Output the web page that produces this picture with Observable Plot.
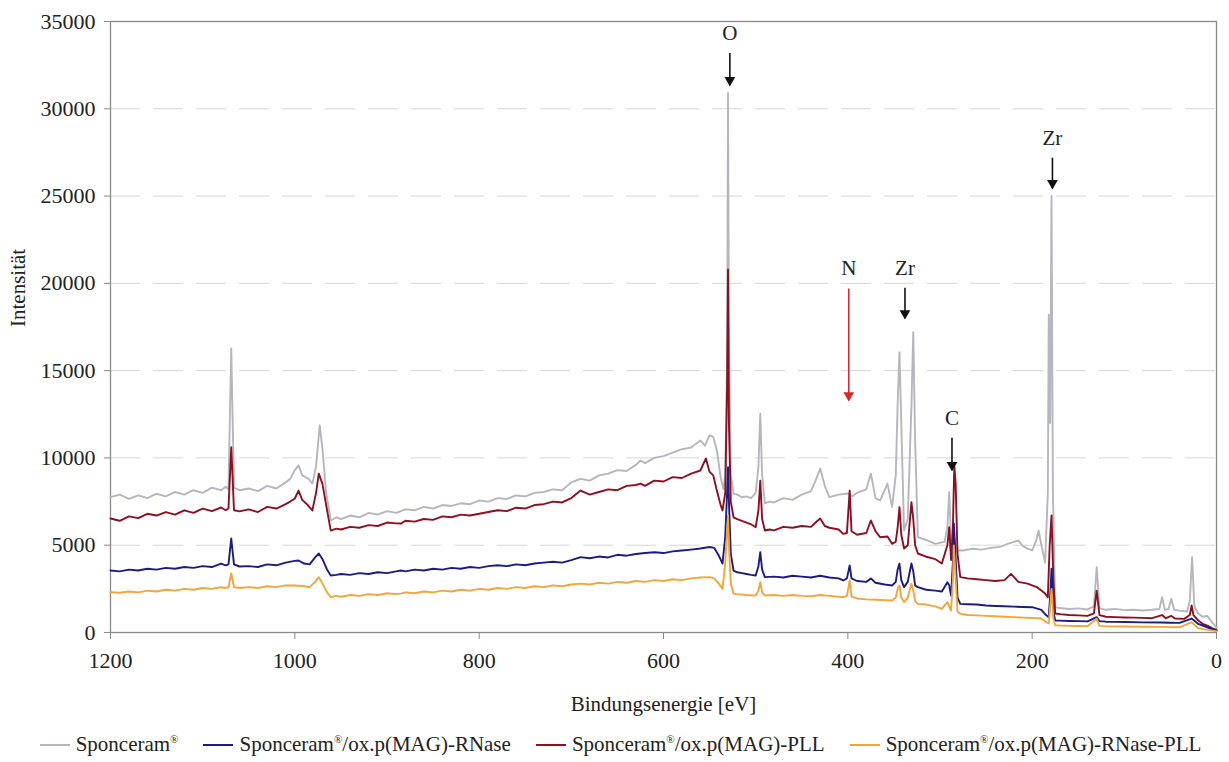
<!DOCTYPE html>
<html>
<head>
<meta charset="utf-8">
<script src="https://cdn.jsdelivr.net/npm/d3@7"></script>
<script src="https://cdn.jsdelivr.net/npm/@observablehq/plot@0.6"></script>
<style>
  body { margin: 0; background: #fff; font-family: "Liberation Serif", "Times New Roman", serif; }
  #chart svg { font-family: "Liberation Serif", "Times New Roman", serif !important; }
  #chart svg g[aria-label="y-axis tick label"] text, #chart svg g[aria-label="x-axis tick label"] text { font-size: 22px; }
  #legend { display: flex; justify-content: center; gap: 25px; font-size: 21px; color: #222; margin-top: 10px; margin-left: 12px; }
  #legend .item { display: flex; align-items: center; white-space: nowrap; }
  #legend .sw { display: inline-block; width: 30px; height: 2px; margin-right: 6px; }
  #legend sup { font-size: 11px; }
</style>
</head>
<body>
<div id="chart"></div>
<div id="legend"></div>
<script>
// Series names and colours
const seriesNames = ["Sponceram®", "Sponceram®/ox.p(MAG)-RNase", "Sponceram®/ox.p(MAG)-PLL", "Sponceram®/ox.p(MAG)-RNase-PLL"];
const seriesColors = ["#b6b6be", "#1c1c80", "#8c1022", "#f2a53c"];

// [Bindungsenergie eV, Intensität]
const sponceram = [[1200,7750],[1190,7900],[1180,7650],[1170,7850],[1160,7700],[1150,7950],[1140,7800],[1130,8050],[1120,7900],[1110,8150],[1100,8000],[1090,8300],[1080,8150],[1075,8350],[1072,8200],[1069,16270],[1066,8300],[1060,8150],[1050,8250],[1040,8100],[1030,8400],[1020,8250],[1010,8600],[1005,8800],[1000,9300],[996,9570],[992,9000],[985,8800],[981,8530],[977,9500],[973,11860],[970,10500],[966,8000],[961,6415],[955,6600],[950,6500],[940,6700],[930,6600],[920,6850],[910,6750],[900,6950],[890,6850],[880,7050],[870,7000],[860,7200],[850,7100],[840,7300],[830,7250],[820,7400],[810,7350],[800,7560],[790,7500],[780,7700],[770,7650],[760,7850],[750,7800],[740,8000],[730,8050],[720,8200],[710,8150],[700,8600],[690,8800],[680,8700],[670,9000],[660,9100],[650,9300],[640,9250],[630,9600],[625,9850],[620,9700],[610,10000],[600,10100],[590,10300],[580,10500],[570,10600],[560,11000],[555,10700],[550,11300],[546,11200],[542,10400],[538,8900],[535,8200],[533,9000],[531,16000],[530,30900],[529,17000],[527,9000],[524,7960],[520,7900],[515,7750],[510,7800],[505,7700],[500,8000],[497,9500],[495,12540],[493,9000],[490,7400],[485,7500],[480,7450],[470,7700],[460,7600],[450,7900],[440,8100],[435,8700],[430,9390],[425,8400],[420,7750],[410,7900],[400,7960],[395,7800],[390,8000],[380,8200],[375,9100],[370,7700],[365,7560],[357,8530],[352,7180],[348,9000],[346,13000],[344,16060],[342,12000],[339,5840],[335,6500],[331,13000],[329,17200],[327,11000],[324,5460],[315,5300],[305,5080],[295,5200],[292,6000],[290,8040],[288,5270],[285,5600],[282,4700],[275,4700],[265,4800],[255,4750],[245,4850],[235,4900],[225,5100],[215,5270],[210,4950],[205,4800],[200,4700],[196,5200],[193,5840],[190,5000],[186,4000],[183,8000],[182,18200],[180.5,12000],[179,25000],[177.5,8000],[175,1450],[170,1400],[160,1350],[150,1380],[140,1320],[133,1500],[130,3740],[127,1400],[120,1300],[110,1350],[100,1280],[90,1300],[80,1260],[70,1300],[62,1350],[59,2025],[56,1300],[52,1350],[49,1930],[46,1300],[40,1250],[32,1200],[29,1800],[26.5,4315],[24,1500],[20,1100],[15,900],[10,950],[5,600],[0,300]];

const rnase = [[1200,3550],[1190,3500],[1180,3600],[1170,3550],[1160,3650],[1150,3600],[1140,3700],[1130,3650],[1120,3750],[1110,3700],[1100,3800],[1090,3750],[1080,3950],[1075,3850],[1072,3900],[1069,5385],[1066,3900],[1060,3780],[1050,3800],[1040,3750],[1030,3900],[1020,3850],[1010,4000],[1000,4100],[996,4125],[990,3950],[984,3900],[978,4300],[974,4525],[970,4200],[965,3600],[961,3265],[955,3300],[950,3350],[940,3300],[930,3400],[920,3350],[910,3450],[900,3400],[890,3500],[885,3550],[880,3500],[870,3600],[860,3550],[850,3650],[840,3600],[830,3700],[820,3650],[810,3750],[800,3700],[790,3800],[780,3850],[770,3800],[760,3900],[750,3850],[740,3950],[730,4000],[720,4050],[710,4000],[700,4150],[690,4315],[680,4250],[670,4350],[660,4300],[650,4450],[640,4400],[630,4500],[620,4550],[610,4600],[600,4550],[590,4650],[580,4700],[570,4750],[560,4810],[550,4900],[545,4850],[540,4400],[536,3950],[533,5500],[531,8000],[530,9470],[529,7500],[527,4500],[524,3550],[520,3450],[515,3400],[510,3350],[505,3300],[500,3265],[497,3800],[495,4600],[493,3600],[490,3170],[480,3200],[470,3150],[460,3250],[450,3200],[440,3150],[430,3250],[420,3150],[410,3100],[405,2980],[401,3100],[398,3840],[396,3100],[390,2950],[380,2900],[375,3100],[370,2850],[360,2750],[352,2690],[348,2900],[346,3600],[344,3950],[342,3000],[339,2600],[335,2900],[331,3950],[329,3500],[327,2700],[324,2595],[315,2450],[305,2400],[298,2350],[292,2880],[290,2700],[288,2120],[286,4000],[285,6240],[284,5200],[281,2000],[278,1640],[270,1620],[260,1600],[250,1550],[240,1520],[230,1500],[220,1480],[210,1460],[200,1450],[190,1300],[185,1000],[182,880],[180,2500],[179,3660],[177,1200],[175,690],[170,680],[160,660],[150,650],[140,640],[130,880],[127,650],[120,620],[110,610],[100,600],[80,580],[60,570],[50,560],[40,550],[27,800],[20,500],[10,300],[0,100]];

const pll = [[1200,6530],[1190,6400],[1180,6650],[1170,6550],[1160,6800],[1150,6700],[1140,6900],[1130,6750],[1120,7000],[1110,6850],[1100,7100],[1090,6950],[1080,7160],[1075,7000],[1072,7100],[1069,10615],[1066,7000],[1060,6940],[1050,7050],[1040,6900],[1030,7200],[1020,7100],[1010,7350],[1005,7500],[1000,7675],[996,8130],[992,7600],[986,7300],[981,6990],[977,8000],[974,9100],[970,8500],[965,7000],[961,5840],[955,5950],[950,5900],[940,6050],[930,6000],[920,6150],[910,6100],[900,6300],[890,6250],[885,6240],[880,6400],[870,6350],[860,6500],[850,6450],[840,6650],[830,6600],[820,6750],[810,6700],[800,6800],[790,6900],[780,7000],[770,6950],[760,7150],[750,7100],[740,7300],[730,7350],[720,7500],[710,7450],[700,7700],[690,8130],[680,7900],[670,8050],[660,8200],[650,8150],[640,8400],[630,8450],[625,8530],[620,8400],[610,8700],[600,8650],[590,8900],[580,8850],[570,9100],[560,9280],[554,9970],[550,9200],[546,9000],[542,8100],[538,7300],[536,6990],[533,8000],[531,14000],[530,20800],[529,12000],[527,7500],[524,6600],[520,6500],[515,6400],[510,6300],[505,6200],[500,6030],[497,7000],[495,8700],[493,6500],[490,5840],[485,5900],[480,5850],[470,6050],[460,6000],[450,6100],[440,6050],[435,6300],[430,6530],[425,6100],[420,6000],[410,5900],[405,5650],[401,5700],[398,8130],[396,5800],[390,5600],[380,5700],[375,6415],[370,5800],[365,5460],[357,5500],[352,5080],[348,5200],[346,6000],[344,7180],[342,5600],[339,4810],[335,5000],[331,7460],[329,6500],[327,5000],[324,4525],[315,4340],[305,4200],[298,3950],[292,5000],[290,6030],[288,4150],[286,6000],[284.5,9570],[283,8500],[281,4500],[278,3170],[270,3100],[260,3050],[250,3000],[240,2950],[230,3000],[223,3360],[215,2900],[205,2800],[195,2600],[190,2400],[186,2230],[183,2000],[181,5000],[179,6700],[177,3000],[175,1090],[170,1050],[160,1000],[150,980],[140,950],[133,1100],[130,2400],[127,1000],[120,900],[110,880],[100,860],[90,850],[80,840],[70,820],[59,1000],[55,820],[49,950],[45,800],[35,780],[29,1000],[27,1545],[25,1000],[20,700],[15,500],[10,400],[5,250],[0,150]];

const rnasePll = [[1200,2310],[1190,2280],[1180,2350],[1170,2300],[1160,2400],[1150,2350],[1140,2450],[1130,2400],[1120,2500],[1110,2450],[1100,2550],[1090,2500],[1080,2595],[1075,2550],[1072,2600],[1069,3380],[1066,2600],[1060,2550],[1050,2600],[1040,2550],[1030,2650],[1020,2600],[1010,2700],[1000,2690],[990,2650],[984,2600],[978,2900],[974,3170],[970,2800],[965,2300],[961,2025],[955,2100],[950,2050],[940,2150],[930,2100],[920,2200],[910,2150],[900,2250],[890,2200],[885,2230],[880,2300],[870,2250],[860,2350],[850,2300],[840,2400],[830,2350],[820,2450],[810,2400],[800,2500],[790,2450],[780,2550],[770,2500],[760,2600],[750,2550],[740,2650],[730,2600],[720,2700],[710,2650],[700,2750],[690,2800],[680,2750],[670,2850],[660,2800],[650,2900],[640,2850],[630,2950],[620,2900],[610,3000],[600,2950],[590,3050],[580,3000],[570,3100],[560,3150],[550,3170],[545,3100],[540,2800],[536,2500],[533,4000],[531,5800],[530,6700],[529,5000],[527,2800],[524,2230],[520,2200],[510,2150],[500,2120],[497,2400],[495,2880],[493,2300],[490,2120],[480,2150],[470,2100],[460,2150],[450,2100],[440,2080],[430,2150],[420,2100],[410,2050],[405,2025],[401,2100],[398,2980],[396,2050],[390,1950],[380,1900],[370,1880],[360,1850],[352,1830],[348,2000],[346,2500],[344,2690],[342,2000],[339,1740],[335,2000],[331,2800],[329,2400],[327,1800],[324,1640],[315,1600],[305,1500],[298,1350],[292,1740],[290,1500],[288,1260],[286,3000],[285,4980],[284,4000],[281,1200],[278,1070],[270,1000],[260,980],[250,950],[240,930],[230,900],[220,880],[210,850],[200,830],[190,800],[185,600],[182,515],[180,1800],[179,2500],[177,800],[175,420],[170,400],[160,380],[150,370],[140,360],[130,800],[127,380],[120,350],[100,340],[80,330],[60,320],[50,310],[40,300],[27,590],[20,250],[10,150],[0,80]];

const xTicks = [1200, 1000, 800, 600, 400, 200, 0];
const yTicks = [0, 5000, 10000, 15000, 20000, 25000, 30000, 35000];
const gridValues = [5000, 10000, 15000, 20000, 25000, 30000];

// Peak annotations: label, energy, label height, arrow start, arrow tip
const annLabels = ["O", "Zr", "N", "Zr", "C"];
const annEnergy = [528, 178, 399, 338, 287];
const annTextY = [34350, 28300, 20850, 20850, 12250];
const annFromY = [33200, 27200, 19700, 19750, 11150];
const annToY = [31350, 25450, 13300, 18000, 9300];
const annColors = ["#111", "#111", "#d7262c", "#111", "#111"];

const drawOrder = [0, 2, 1, 3];
const allSeries = [sponceram, rnase, pll, rnasePll];
const ann = annLabels.map((label, i) => ({label, x: annEnergy[i], ty: annTextY[i], y1: annFromY[i], y2: annToY[i], c: annColors[i]}));

const marks = [
  Plot.ruleY(gridValues, {stroke: "#d6d6d6", strokeDasharray: "30,13", strokeWidth: 1}),
  Plot.frame({stroke: "#8a8a8a", strokeWidth: 1.3}),
  Plot.axisX({ticks: xTicks, tickSize: 7, tickPadding: 13, tickFormat: d3.format("d"), label: null, stroke: "#8a8a8a"}),
  Plot.axisY({ticks: yTicks, tickSize: 6, tickPadding: 9, tickFormat: d3.format("d"), label: null, stroke: "#8a8a8a"}),
];
drawOrder.forEach(i => {
  marks.push(Plot.line(allSeries[i], {x: d => d[0], y: d => d[1], stroke: seriesColors[i], strokeWidth: 1.9, strokeLinejoin: "round"}));
});
marks.push(
  Plot.link(ann, {x1: "x", x2: "x", y1: "y1", y2: "y2", stroke: "c", strokeWidth: 1.6}),
  Plot.dot(ann, {x: "x", y: "y2", symbol: "triangle", rotate: 180, r: 4, fill: "c", stroke: null, dy: -5}),
  Plot.text(ann, {x: "x", y: "ty", text: "label", fill: "#222", fontSize: 21}),
  Plot.text(["Bindungsenergie [eV]"], {frameAnchor: "bottom", dy: 78, fill: "#222", fontSize: 21}),
  Plot.text(["Intensität"], {frameAnchor: "left", dx: -92, rotate: -90, fill: "#222", fontSize: 21})
);

const chart = Plot.plot({
  width: 1229,
  height: 722,
  marginLeft: 110,
  marginRight: 13,
  marginTop: 21,
  marginBottom: 90,
  style: {fontFamily: "Liberation Serif, Times New Roman, serif", fontSize: "21px", color: "#222", background: "#fff"},
  x: {domain: [1200, 0]},
  y: {domain: [0, 35000]},
  marks
});
document.getElementById("chart").appendChild(chart);

const legend = document.getElementById("legend");
seriesNames.forEach((name, i) => {
  const item = document.createElement("span");
  item.className = "item";
  const sw = document.createElement("span");
  sw.className = "sw";
  sw.style.background = seriesColors[i];
  item.appendChild(sw);
  const t = document.createElement("span");
  t.innerHTML = name.replace("®", "<sup>®</sup>");
  item.appendChild(t);
  legend.appendChild(item);
});
</script>
</body>
</html>
